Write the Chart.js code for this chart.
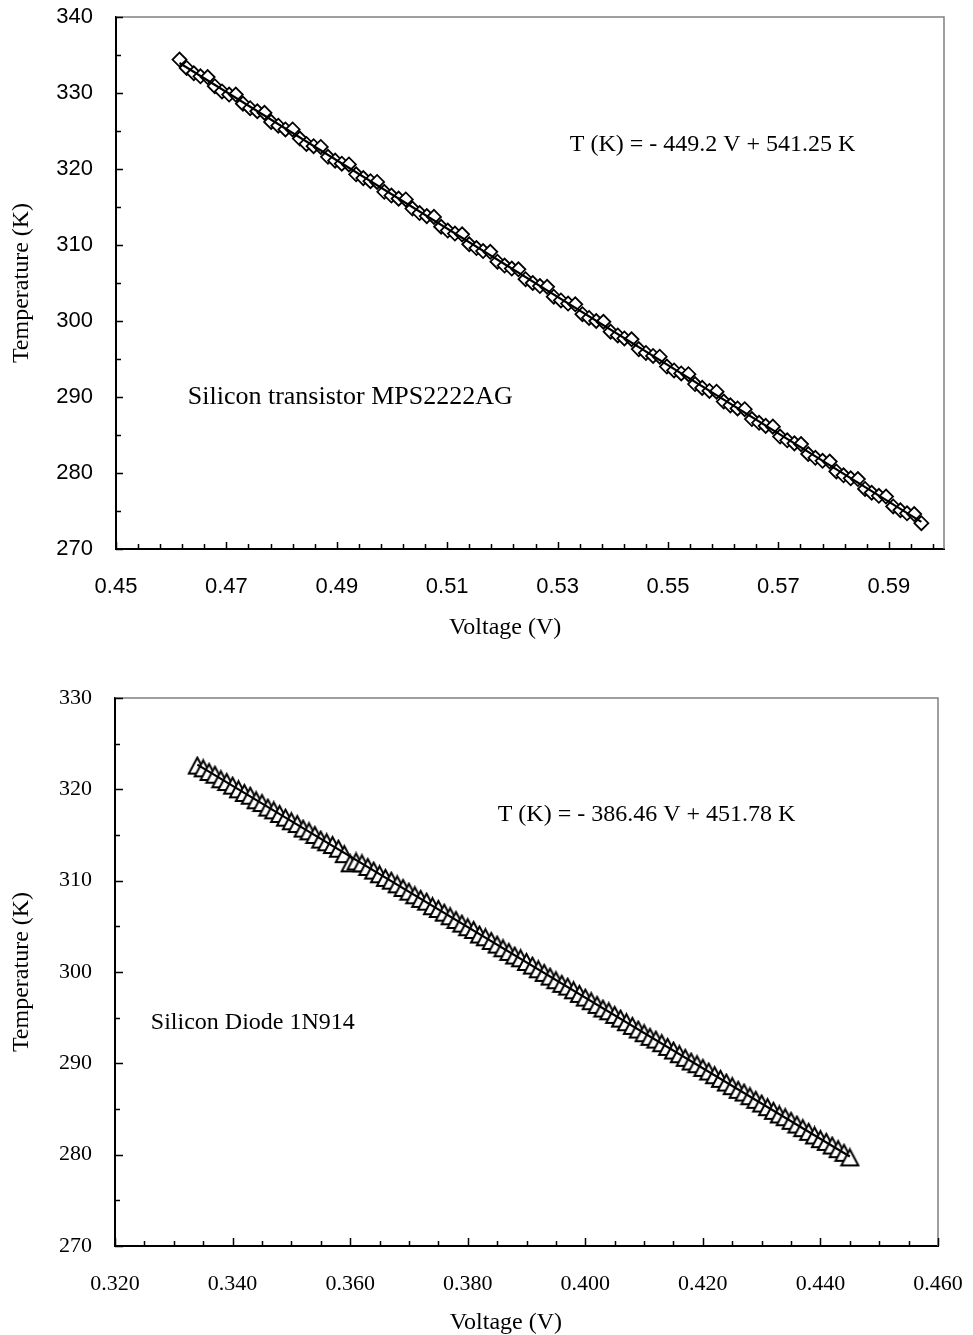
<!DOCTYPE html>
<html>
<head>
<meta charset="utf-8">
<script src="https://cdn.jsdelivr.net/npm/chart.js@4/dist/chart.umd.min.js"></script>
<style>
    body { margin: 0; background: #fff; }
    .box { position: absolute; left: 0; width: 973px; }
</style>
</head>
<body>
<div class="box" style="top:0;height:665px"><canvas id="transistorChart"></canvas></div>
<div class="box" style="top:680px;height:655px"><canvas id="diodeChart"></canvas></div>
<script>
// Transistor MPS2222AG : tension (V) / température (K)
const transVolts = [
    0.4615, 0.4628, 0.4641, 0.4653, 0.4666, 0.4679, 0.4692, 0.4705, 0.4717, 0.4730,
    0.4743, 0.4756, 0.4769, 0.4781, 0.4794, 0.4807, 0.4820, 0.4833, 0.4845, 0.4858,
    0.4871, 0.4884, 0.4897, 0.4909, 0.4922, 0.4935, 0.4948, 0.4961, 0.4973, 0.4986,
    0.4999, 0.5012, 0.5025, 0.5037, 0.5050, 0.5063, 0.5076, 0.5089, 0.5101, 0.5114,
    0.5127, 0.5140, 0.5153, 0.5165, 0.5178, 0.5191, 0.5204, 0.5217, 0.5229, 0.5242,
    0.5255, 0.5268, 0.5281, 0.5293, 0.5306, 0.5319, 0.5332, 0.5345, 0.5357, 0.5370,
    0.5383, 0.5396, 0.5409, 0.5421, 0.5434, 0.5447, 0.5460, 0.5473, 0.5485, 0.5498,
    0.5511, 0.5524, 0.5537, 0.5549, 0.5562, 0.5575, 0.5588, 0.5601, 0.5613, 0.5626,
    0.5639, 0.5652, 0.5665, 0.5677, 0.5690, 0.5703, 0.5716, 0.5729, 0.5741, 0.5754,
    0.5767, 0.5780, 0.5793, 0.5805, 0.5818, 0.5831, 0.5844, 0.5857, 0.5869, 0.5882,
    0.5895, 0.5908, 0.5921, 0.5933, 0.5946, 0.5959
];
const transTemps = [
    334.4, 333.3, 332.6, 332.2, 332.1, 330.9, 330.2, 329.8, 329.8, 328.6,
    328.0, 327.6, 327.4, 326.2, 325.7, 325.2, 325.2, 324.0, 323.3, 323.0,
    322.9, 321.6, 321.1, 320.7, 320.6, 319.3, 318.8, 318.4, 318.3, 317.0,
    316.5, 316.1, 316.0, 314.8, 314.2, 313.8, 313.7, 312.4, 311.9, 311.5,
    311.4, 310.1, 309.6, 309.2, 309.1, 307.8, 307.3, 306.9, 306.8, 305.5,
    305.0, 304.6, 304.5, 303.2, 302.7, 302.3, 302.2, 300.9, 300.4, 300.0,
    299.9, 298.6, 298.1, 297.7, 297.6, 296.3, 295.8, 295.4, 295.3, 294.0,
    293.5, 293.1, 293.0, 291.7, 291.2, 290.8, 290.7, 289.4, 288.9, 288.5,
    288.4, 287.1, 286.6, 286.2, 286.1, 284.8, 284.3, 283.9, 283.8, 282.5,
    282.0, 281.6, 281.5, 280.2, 279.7, 279.3, 279.2, 277.9, 277.4, 277.0,
    276.9, 275.6, 275.1, 274.7, 274.6, 273.4
];
const transFitVolts = [0.4615, 0.5959];
const transFitTemps = [333.94, 273.57];

// Diode 1N914
const diodeVolts = [
    0.334, 0.335, 0.336, 0.337, 0.338, 0.339, 0.340, 0.341, 0.342, 0.343,
    0.344, 0.345, 0.346, 0.347, 0.348, 0.349, 0.350, 0.351, 0.352, 0.353,
    0.354, 0.355, 0.356, 0.357, 0.358, 0.359, 0.360, 0.361, 0.362, 0.363,
    0.364, 0.365, 0.366, 0.367, 0.368, 0.369, 0.370, 0.371, 0.372, 0.373,
    0.374, 0.375, 0.376, 0.377, 0.378, 0.379, 0.380, 0.381, 0.382, 0.383,
    0.384, 0.385, 0.386, 0.387, 0.388, 0.389, 0.390, 0.391, 0.392, 0.393,
    0.394, 0.395, 0.396, 0.397, 0.398, 0.399, 0.400, 0.401, 0.402, 0.403,
    0.404, 0.405, 0.406, 0.407, 0.408, 0.409, 0.410, 0.411, 0.412, 0.413,
    0.414, 0.415, 0.416, 0.417, 0.418, 0.419, 0.420, 0.421, 0.422, 0.423,
    0.424, 0.425, 0.426, 0.427, 0.428, 0.429, 0.430, 0.431, 0.432, 0.433,
    0.434, 0.435, 0.436, 0.437, 0.438, 0.439, 0.440, 0.441, 0.442, 0.443,
    0.444, 0.445
];
const diodeTemps = [
    322.6, 322.3, 321.9, 321.6, 321.1, 320.8, 320.4, 320.0, 319.6, 319.3,
    318.8, 318.5, 318.0, 317.7, 317.3, 316.9, 316.5, 316.2, 315.7, 315.4,
    315.0, 314.5, 314.2, 313.9, 313.5, 312.9, 311.9, 312.1, 311.9, 311.5,
    311.1, 310.7, 310.3, 310.0, 309.6, 309.2, 308.8, 308.4, 308.0, 307.7,
    307.2, 306.9, 306.5, 306.1, 305.7, 305.3, 304.9, 304.6, 304.1, 303.8,
    303.4, 303.0, 302.6, 302.2, 301.8, 301.5, 301.1, 300.7, 300.3, 299.9,
    299.5, 299.1, 298.7, 298.4, 298.0, 297.6, 297.2, 296.8, 296.4, 296.0,
    295.7, 295.3, 294.9, 294.5, 294.1, 293.7, 293.3, 292.9, 292.6, 292.2,
    291.8, 291.4, 291.0, 290.6, 290.2, 289.9, 289.5, 289.1, 288.7, 288.3,
    287.9, 287.5, 287.1, 286.8, 286.4, 286.0, 285.6, 285.2, 284.8, 284.4,
    284.1, 283.7, 283.3, 282.9, 282.5, 282.1, 281.7, 281.4, 281.0, 280.6,
    280.2, 279.7
];
const diodeFitVolts = [0.334, 0.445];
const diodeFitTemps = [322.70, 279.80];

// Graduations
const transXMajor = [0.45, 0.47, 0.49, 0.51, 0.53, 0.55, 0.57, 0.59];
const transYMajor = [270, 280, 290, 300, 310, 320, 330, 340];
const diodeXMajor = [0.32, 0.34, 0.36, 0.38, 0.40, 0.42, 0.44, 0.46];
const diodeYMajor = [270, 280, 290, 300, 310, 320, 330];

const SANS = '"Liberation Sans", Arial, sans-serif';
const SERIF = '"Liberation Serif", "Times New Roman", serif';

// Marqueur triangle façon Excel (plus haut que le triangle de Chart.js)
function makeTriangle(w, h, lw) {
    const c = document.createElement('canvas');
    c.width = w + lw * 2;
    c.height = h + lw * 2;
    const g = c.getContext('2d');
    g.beginPath();
    g.moveTo(c.width / 2, lw);
    g.lineTo(c.width - lw, lw + h);
    g.lineTo(lw, lw + h);
    g.closePath();
    g.fillStyle = '#fff';
    g.fill();
    g.lineWidth = lw;
    g.lineJoin = 'miter';
    g.strokeStyle = '#000';
    g.stroke();
    return c;
}

// Cadre gris + graduations tournées vers l'intérieur, comme dans Excel
const frameTicks = {
    id: 'frameTicks',
    beforeDatasetsDraw(chart, args, opts) {
        const { ctx, chartArea: a, scales } = chart;
        ctx.save();
        ctx.strokeStyle = '#808080';
        ctx.lineWidth = 1.5;
        ctx.beginPath();
        ctx.moveTo(a.left, a.top);
        ctx.lineTo(a.right, a.top);
        ctx.lineTo(a.right, a.bottom);
        ctx.stroke();

        ctx.strokeStyle = '#000';
        ctx.lineWidth = 1.5;
        ctx.beginPath();
        const x = scales.x, y = scales.y;
        for (let v = x.min; v <= x.max + 1e-9; v += opts.xMinor) {
            const px = Math.round(x.getPixelForValue(v)) + 0.5;
            const r = (v - x.min) / opts.xMajor;
            const isMajor = Math.abs(r - Math.round(r)) < 1e-6;
            ctx.moveTo(px, a.bottom);
            ctx.lineTo(px, a.bottom - (isMajor ? opts.major : opts.minor));
        }
        for (let v = y.min; v <= y.max + 1e-9; v += opts.yMinor) {
            const py = Math.round(y.getPixelForValue(v)) + 0.5;
            const isMajor = Math.abs(v % opts.yMajor) < 1e-9;
            ctx.moveTo(a.left, py);
            ctx.lineTo(a.left + (isMajor ? opts.major : opts.minor), py);
        }
        ctx.stroke();
        ctx.restore();
    },
    afterDraw(chart, args, opts) {
        const { ctx, scales } = chart;
        ctx.save();
        ctx.fillStyle = '#000';
        ctx.textBaseline = 'middle';
        (opts.notes || []).forEach(n => {
            ctx.font = n.font;
            ctx.textAlign = n.align || 'left';
            ctx.fillText(n.text, scales.x.getPixelForValue(n.x), scales.y.getPixelForValue(n.y));
        });
        ctx.restore();
    }
};

function buildChart(canvasId, cfg) {
    const ctx = document.getElementById(canvasId).getContext('2d');
    return new Chart(ctx, {
        type: 'scatter',
        data: {
            datasets: [
                {
                    data: cfg.fitX.map((v, i) => ({ x: v, y: cfg.fitY[i] })),
                    showLine: true,
                    borderColor: '#000',
                    borderWidth: 2.2,
                    pointRadius: 0
                },
                {
                    data: cfg.xs.map((v, i) => ({ x: v, y: cfg.ys[i] })),
                    pointStyle: cfg.pointStyle,
                    pointRadius: cfg.pointRadius,
                    borderColor: '#000',
                    backgroundColor: '#fff',
                    borderWidth: cfg.pointBorder
                }
            ]
        },
        options: {
            responsive: true,
            maintainAspectRatio: false,
            animation: false,
            layout: { padding: cfg.padding },
            plugins: {
                legend: { display: false },
                tooltip: { enabled: false },
                frameTicks: cfg.ticks
            },
            scales: {
                x: {
                    type: 'linear',
                    min: cfg.xMin, max: cfg.xMax,
                    afterBuildTicks: s => { s.ticks = cfg.xMajorTicks.map(v => ({ value: v })); },
                    afterFit: s => { s.height = cfg.xHeight; s.paddingLeft = 0; s.paddingRight = 0; },
                    grid: { display: false, drawTicks: false },
                    border: { display: true, color: '#000', width: 2 },
                    ticks: {
                        padding: 25,
                        color: '#000',
                        autoSkip: false,
                        maxRotation: 0,
                        font: { family: cfg.tickFont, size: 22 },
                        callback: v => v.toFixed(cfg.xDecimals)
                    }
                },
                y: {
                    type: 'linear',
                    min: cfg.yMin, max: cfg.yMax,
                    afterBuildTicks: s => { s.ticks = cfg.yMajorTicks.map(v => ({ value: v })); },
                    afterFit: s => { s.width = cfg.yWidth; s.paddingTop = 0; s.paddingBottom = 0; },
                    grid: { display: false, drawTicks: false },
                    border: { display: true, color: '#000', width: 2 },
                    ticks: {
                        padding: 23,
                        color: '#000',
                        font: { family: cfg.tickFont, size: 22 },
                        callback: v => String(v)
                    },
                    title: {
                        display: true, text: 'Temperature (K)', color: '#000',
                        font: { family: SERIF, size: 24, lineHeight: 1 },
                        padding: { top: 10, bottom: 0 }
                    }
                }
            }
        },
        plugins: [frameTicks]
    });
}

buildChart('transistorChart', {
    xs: transVolts, ys: transTemps, fitX: transFitVolts, fitY: transFitTemps,
    pointStyle: 'rectRot', pointRadius: 7, pointBorder: 1.8,
    xMin: 0.45, xMax: 0.60, yMin: 270, yMax: 340,
    xMajorTicks: transXMajor, yMajorTicks: transYMajor, xDecimals: 2,
    tickFont: SANS,
    padding: { top: 17, right: 29, left: 0, bottom: 0 },
    xHeight: 116, yWidth: 116,
    ticks: {
        xMinor: 0.004, xMajor: 0.02, yMinor: 5, yMajor: 10, major: 7, minor: 5,
        notes: [
            { text: 'T (K) = - 449.2 V + 541.25 K', x: 0.5322, y: 323.2, font: '24px ' + SERIF },
            { text: 'Silicon transistor MPS2222AG', x: 0.4630, y: 290.0, font: '26px ' + SERIF },
            { text: 'Voltage (V)', x: 0.5205, y: 259.6, font: '24px ' + SERIF, align: 'center' }
        ]
    }
});

buildChart('diodeChart', {
    xs: diodeVolts, ys: diodeTemps, fitX: diodeFitVolts, fitY: diodeFitTemps,
    pointStyle: makeTriangle(17, 16, 2), pointRadius: 9, pointBorder: 2,
    xMin: 0.32, xMax: 0.46, yMin: 270, yMax: 330,
    xMajorTicks: diodeXMajor, yMajorTicks: diodeYMajor, xDecimals: 3,
    tickFont: SERIF,
    padding: { top: 18, right: 35, left: 0, bottom: 0 },
    xHeight: 89, yWidth: 115,
    ticks: {
        xMinor: 0.005, xMajor: 0.02, yMinor: 5, yMajor: 10, major: 8, minor: 5,
        notes: [
            { text: 'T (K) = - 386.46 V + 451.78 K', x: 0.3851, y: 317.2, font: '24px ' + SERIF },
            { text: 'Silicon Diode 1N914', x: 0.3261, y: 294.4, font: '24px ' + SERIF },
            { text: 'Voltage (V)', x: 0.3865, y: 261.6, font: '24px ' + SERIF, align: 'center' }
        ]
    }
});
</script>
</body>
</html>
